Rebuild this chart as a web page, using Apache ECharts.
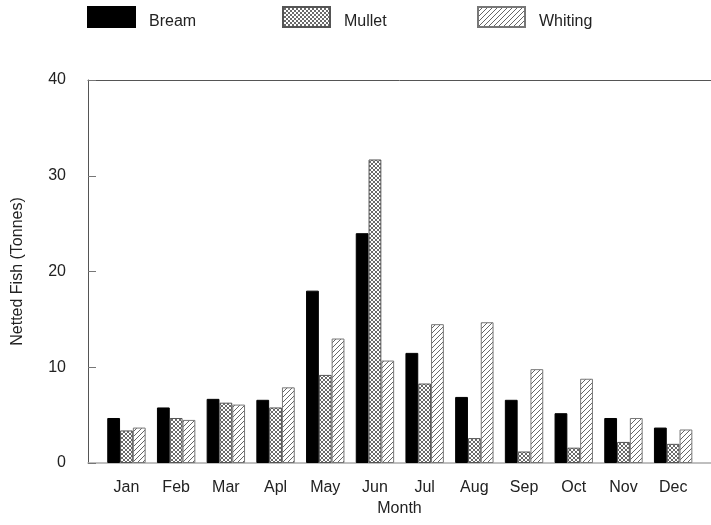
<!DOCTYPE html>
<html>
<head>
<meta charset="utf-8">
<script src="https://cdn.jsdelivr.net/npm/echarts@6/dist/echarts.min.js"></script>
<style>
  html, body { margin: 0; padding: 0; background: #fff; }
  #chart { width: 711px; height: 525px; }
</style>
</head>
<body>
<div id="chart"></div>
<script>
// monthly netted fish, tonnes
const months = ["Jan", "Feb", "Mar", "Apl", "May", "Jun", "Jul", "Aug", "Sep", "Oct", "Nov", "Dec"];
const bream = [4.7, 5.8, 6.7, 6.6, 18.0, 24.0, 11.5, 6.9, 6.6, 5.2, 4.7, 3.7];
const mullet = [3.4, 4.7, 6.3, 5.8, 9.2, 31.7, 8.3, 2.6, 1.2, 1.6, 2.2, 2.0];
const whiting = [3.7, 4.5, 6.1, 7.9, 13.0, 10.7, 14.5, 14.7, 9.8, 8.8, 4.7, 3.5];
const yTicks = [0, 10, 20, 30, 40];

const font = '"Liberation Sans", Arial, sans-serif';

// hatch fills
function makePattern(size, draw) {
  const c = document.createElement("canvas");
  c.width = size;
  c.height = size;
  const ctx = c.getContext("2d");
  ctx.fillStyle = "#fff";
  ctx.fillRect(0, 0, size, size);
  draw(ctx, size);
  return { image: c, repeat: "repeat" };
}

const crossHatch = makePattern(4, (ctx, s) => {
  ctx.strokeStyle = "#444";
  ctx.lineWidth = 0.8;
  ctx.beginPath();
  ctx.moveTo(0, 0); ctx.lineTo(s, s);
  ctx.moveTo(0, s); ctx.lineTo(s, 0);
  ctx.stroke();
});

const diagHatch = makePattern(5, (ctx, s) => {
  ctx.strokeStyle = "#666";
  ctx.lineWidth = 1;
  ctx.beginPath();
  ctx.moveTo(0, s); ctx.lineTo(s, 0);
  ctx.moveTo(-1, 1); ctx.lineTo(1, -1);
  ctx.moveTo(s - 1, s + 1); ctx.lineTo(s + 1, s - 1);
  ctx.stroke();
});

const chart = echarts.init(document.getElementById("chart"));

function legendFor(name, left) {
  return {
    data: [name],
    left: left,
    top: 6,
    padding: 0,
    icon: "rect",
    itemWidth: 47,
    itemHeight: 20,
    formatter: "{t|{name}}",
    textStyle: {
      fontFamily: font,
      fontSize: 16,
      color: "#222",
      padding: [0, 0, 0, 9],
      rich: {
        t: {
          fontFamily: font,
          fontSize: 16,
          color: "#222",
          lineHeight: 26,
          verticalAlign: "bottom",
        },
      },
    },
  };
}

const option = {
  animation: false,
  legend: [
    legendFor("Bream", 87),
    legendFor("Mullet", 282),
    legendFor("Whiting", 477),
  ],
  grid: [
    { left: 88, right: 0, top: 80, bottom: 62 },
    { left: 101.6, right: 13, top: 80, bottom: 62 },
  ],
  xAxis: [
    {
      gridIndex: 0,
      type: "value",
      min: 0,
      max: 1,
      axisLine: { show: true, lineStyle: { color: "#aaa", width: 1.5 } },
      axisTick: { show: false },
      axisLabel: { show: false },
      splitLine: { show: false },
      name: "Month",
      nameLocation: "middle",
      nameGap: 38,
      nameTextStyle: { fontFamily: font, fontSize: 16, color: "#222" },
    },
    {
      gridIndex: 0,
      type: "value",
      position: "top",
      min: 0,
      max: 1,
      axisLine: { show: true, lineStyle: { color: "#555", width: 1 } },
      axisTick: { show: false },
      axisLabel: { show: false },
      splitLine: { show: false },
    },
    {
      gridIndex: 1,
      type: "category",
      data: months,
      axisLine: { show: false },
      axisTick: { show: false },
      axisLabel: {
        fontFamily: font,
        fontSize: 16,
        color: "#222",
        margin: 17,
      },
    },
  ],
  yAxis: [
    {
      gridIndex: 0,
      type: "value",
      min: yTicks[0],
      max: yTicks[yTicks.length - 1],
      interval: 10,
      axisLine: { show: true, lineStyle: { color: "#555", width: 1 } },
      axisTick: { show: true, inside: true, length: 8, lineStyle: { color: "#777" } },
      axisLabel: {
        fontFamily: font,
        fontSize: 16,
        color: "#222",
        margin: 22,
      },
      splitLine: { show: false },
      name: "Netted Fish (Tonnes)",
      nameLocation: "middle",
      nameGap: 62,
      nameTextStyle: { fontFamily: font, fontSize: 16, color: "#222" },
    },
    {
      gridIndex: 1,
      type: "value",
      min: yTicks[0],
      max: yTicks[yTicks.length - 1],
      show: false,
    },
  ],
  series: [
    {
      name: "Bream",
      type: "bar",
      xAxisIndex: 2,
      yAxisIndex: 1,
      data: bream,
      barWidth: 12.8,
      barGap: "0%",
      itemStyle: { color: "#000", borderColor: "#000", borderWidth: 1 },
    },
    {
      name: "Mullet",
      type: "bar",
      xAxisIndex: 2,
      yAxisIndex: 1,
      data: mullet,
      barWidth: 12.8,
      barGap: "0%",
      itemStyle: { color: crossHatch, borderColor: "#555", borderWidth: 1 },
    },
    {
      name: "Whiting",
      type: "bar",
      xAxisIndex: 2,
      yAxisIndex: 1,
      data: whiting,
      barWidth: 12.8,
      barGap: "0%",
      itemStyle: { color: diagHatch, borderColor: "#777", borderWidth: 1 },
    },
  ],
};

chart.setOption(option);
</script>
</body>
</html>
